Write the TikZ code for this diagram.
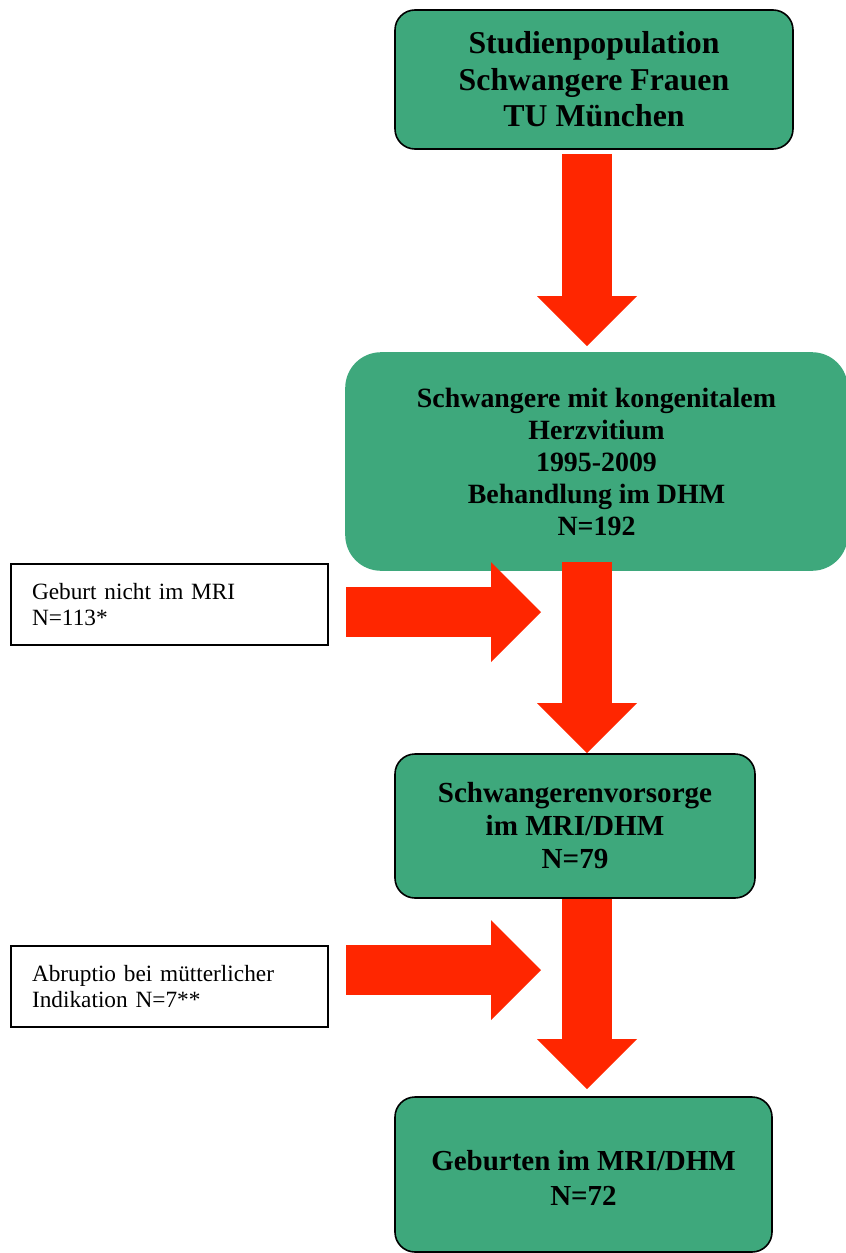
\documentclass[tikz,border=0pt]{standalone}
\usepackage{fontspec}
\setmainfont{Liberation Serif}
\usetikzlibrary{arrows.meta}
\definecolor{boxgreen}{RGB}{62,168,124}
\definecolor{arrowred}{RGB}{255,38,0}
\begin{document}
\begin{tikzpicture}[x=1pt,y=-1pt,
  greenbox/.style={draw=black, line width=1.6pt, fill=boxgreen, rounded corners=20pt,
    inner sep=0pt, align=center},
  notebox/.style={draw=black, line width=2pt, fill=white, inner xsep=21pt, inner ysep=0pt,
    text width=275pt, align=left, minimum width=317pt, minimum height=81pt,
    font=\fontsize{23.3}{25.5}\selectfont},
  blockarrow/.style={draw=arrowred, line width=50pt,
    -{Triangle[length=50pt,width=100pt,line width=0pt]}}]
\useasboundingbox (0,0) rectangle (846,1253);

% main boxes
\node[greenbox, minimum width=398pt, minimum height=139pt,
  font=\fontsize{31.8}{36.5}\selectfont\bfseries] (b1) at (594,79.5)
  {Studienpopulation\\Schwangere Frauen\\TU München};
\node[greenbox, draw=boxgreen, rounded corners=35pt, minimum width=501pt, minimum height=217pt,
  font=\fontsize{27.9}{32}\selectfont\bfseries] (b2) at (596.5,461.5)
  {Schwangere mit kongenitalem\\Herzvitium\\1995-2009\\Behandlung im DHM\\N=192};
\node[greenbox, minimum width=360pt, minimum height=144pt,
  font=\fontsize{29.1}{33}\selectfont\bfseries] (b3) at (575,826)
  {Schwangerenvorsorge\\im MRI/DHM\\N=79};
\node[greenbox, minimum width=377pt, minimum height=155pt,
  font=\fontsize{29}{35}\selectfont\bfseries] (b4) at (583.5,1174.5)
  {\rule{0pt}{26pt}Geburten im MRI/DHM\\N=72};

% side boxes
\node[notebox] (l1) at (169.5,604.5) {Geburt nicht im MRI\\N=113*};
\node[notebox] (l2) at (169.5,986.5) {Abruptio bei mütterlicher\\Indikation N=7**};

% arrow axis and free ends
\coordinate (ax) at (587,0);
\coordinate (h1s) at (346,612);
\coordinate (h1e) at (541,612);
\coordinate (h2s) at (346,970);
\coordinate (h2e) at (541,970);

% vertical arrows
\draw[blockarrow, shorten <=4pt, shorten >=6pt] (b1.south -| ax) -- (b2.north -| ax);
\draw[blockarrow, shorten <=-9pt] (b2.south -| ax) -- (b3.north -| ax);
\draw[blockarrow, shorten >=7pt] (b3.south -| ax) -- (b4.north -| ax);

% horizontal arrows
\draw[blockarrow] (h1s) -- (h1e);
\draw[blockarrow] (h2s) -- (h2e);
\end{tikzpicture}
\end{document}
